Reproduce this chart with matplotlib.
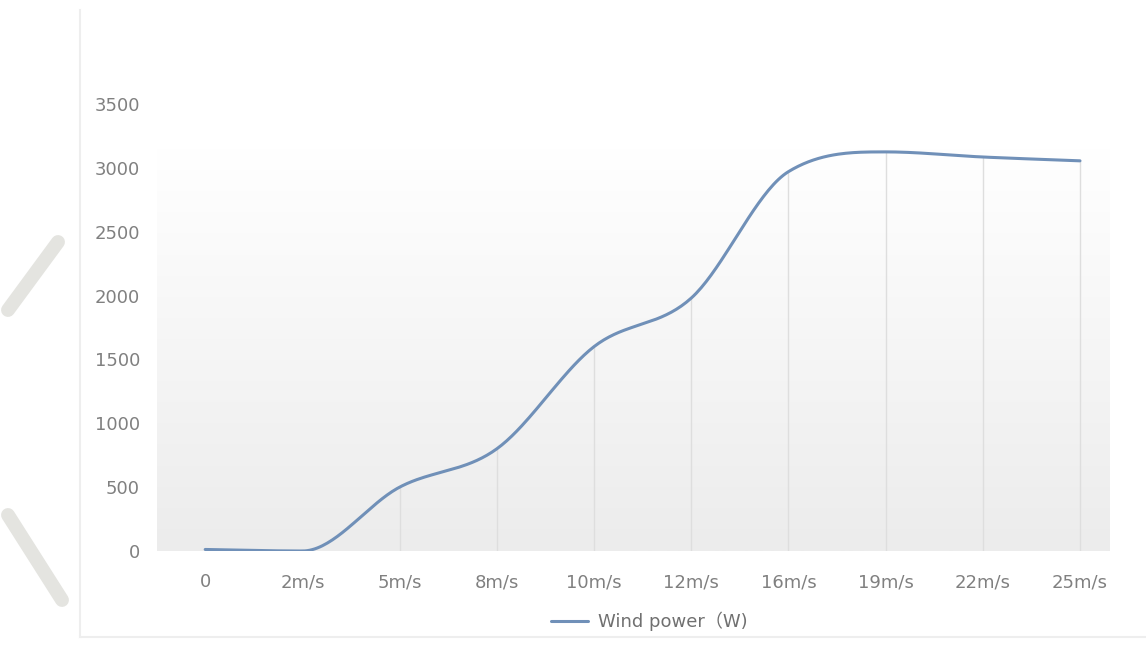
import matplotlib.pyplot as plt
import numpy as np
from matplotlib.lines import Line2D
from matplotlib.colors import LinearSegmentedColormap

# data
speeds = ['0', '2m/s', '5m/s', '8m/s', '10m/s', '12m/s', '16m/s', '19m/s', '22m/s', '25m/s']
power = [12, 0, 500, 800, 1600, 1980, 2970, 3125, 3085, 3055]
y_ticks = [0, 500, 1000, 1500, 2000, 2500, 3000, 3500]

LINE_COLOR = '#7090b8'
TEXT_COLOR = '#808080'


def smooth_curve(x, y, n=40):
    """Smoothed line: cubic Hermite segments, Catmull-Rom tangents limited
    so the curve does not overshoot (Fritsch-Carlson)."""
    x = np.asarray(x, float)
    y = np.asarray(y, float)
    d = np.diff(y) / np.diff(x)
    m = np.zeros_like(y)
    m[0], m[-1] = d[0], d[-1]
    for i in range(1, len(y) - 1):
        if d[i - 1] * d[i] > 0:
            m[i] = (d[i - 1] + d[i]) / 2
    for i in range(len(d)):
        if d[i] == 0:
            m[i] = m[i + 1] = 0
            continue
        a, b = m[i] / d[i], m[i + 1] / d[i]
        s = a * a + b * b
        if s > 9:
            tau = 3 / np.sqrt(s)
            m[i], m[i + 1] = tau * a * d[i], tau * b * d[i]
    xs, ys = [], []
    t = np.linspace(0, 1, n)
    for i in range(len(d)):
        h = x[i + 1] - x[i]
        h00 = 2 * t ** 3 - 3 * t ** 2 + 1
        h10 = t ** 3 - 2 * t ** 2 + t
        h01 = -2 * t ** 3 + 3 * t ** 2
        h11 = t ** 3 - t ** 2
        xs.append(x[i] + t * h)
        ys.append(h00 * y[i] + h10 * h * m[i] + h01 * y[i + 1] + h11 * h * m[i + 1])
    return np.concatenate(xs), np.concatenate(ys)


plt.rcParams['font.size'] = 13

fig = plt.figure(figsize=(11.46, 6.64), dpi=100)
fig.patch.set_facecolor('white')

# outer chart frame
fig.add_artist(Line2D([80 / 1146, 80 / 1146], [1 - 10 / 664, 1 - 637 / 664],
                      color='#eeeeee', lw=1.5))
fig.add_artist(Line2D([80 / 1146, 1.0], [1 - 637 / 664, 1 - 637 / 664],
                      color='#eeeeee', lw=1.5))

# faint watermark strokes at the left edge
fig.add_artist(Line2D([8 / 1146, 58 / 1146], [1 - 310 / 664, 1 - 242 / 664],
                      color='#e4e4e0', lw=10, solid_capstyle='round'))
fig.add_artist(Line2D([8 / 1146, 62 / 1146], [1 - 515 / 664, 1 - 600 / 664],
                      color='#e4e4e0', lw=10, solid_capstyle='round'))

ax = fig.add_axes([156.6 / 1146, 1 - 551 / 664, 972 / 1146, 447 / 664])
x = np.arange(len(speeds))

# gradient plot area background
grad = np.linspace(0, 1, 256)[:, None]
ax.imshow(grad, cmap=LinearSegmentedColormap.from_list('bg', ['#ececec', '#ffffff']),
          origin='lower', aspect='auto', extent=(-0.5, 9.3, 0, 3150), zorder=0)

# drop lines from each point to the axis
ax.vlines(x[1:], 0, power[1:], color='#dedede', lw=1, zorder=1)

sx, sy = smooth_curve(x, power)
ax.plot(sx, sy, color=LINE_COLOR, lw=2.2, zorder=3, label='Wind power（W)',
        solid_capstyle='round')

ax.set_xlim(-0.5, 9.5)
ax.set_ylim(0, 3500)
ax.set_xticks(x)
ax.set_xticklabels(speeds)
ax.set_yticks(y_ticks)
ax.tick_params(axis='both', length=0, labelsize=13, labelcolor=TEXT_COLOR)
ax.tick_params(axis='y', pad=12)
ax.tick_params(axis='x', pad=16)
for s in ax.spines.values():
    s.set_visible(False)
ax.set_facecolor('none')

leg = fig.legend(loc='center', bbox_to_anchor=(0.567, 0.064), frameon=False,
                 handlelength=2.0, handletextpad=0.6,
                 prop={'family': ['DejaVu Sans', 'Noto Sans CJK SC'], 'size': 13})
for t in leg.get_texts():
    t.set_color('#707070')

fig.savefig('out.png', dpi=100, facecolor='white')
